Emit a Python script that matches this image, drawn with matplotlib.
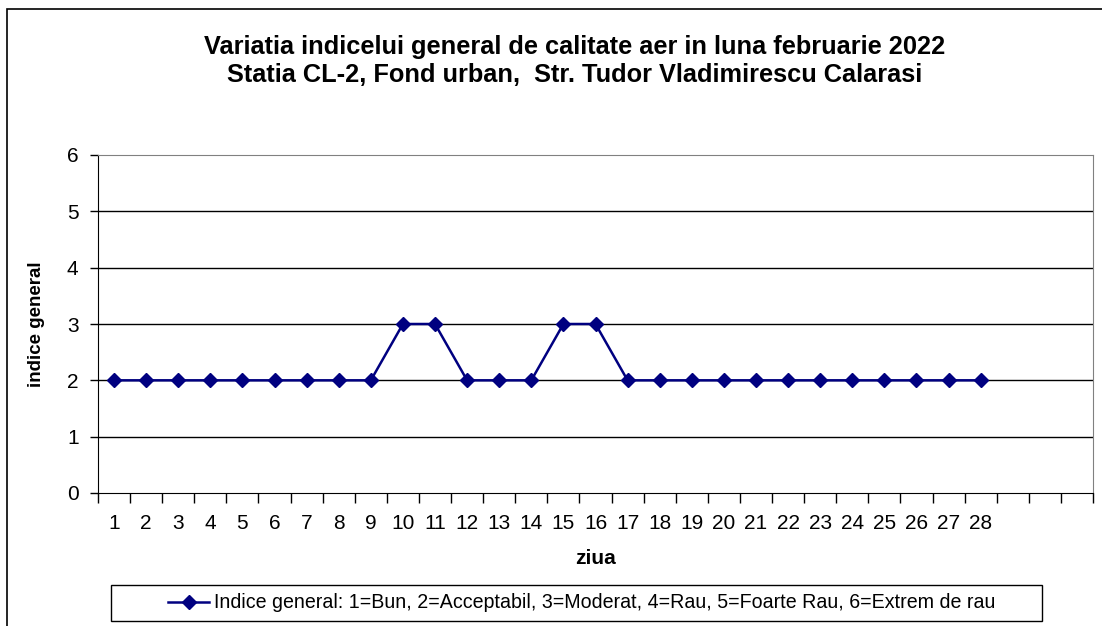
import numpy as np
import matplotlib
matplotlib.use("Agg")
import matplotlib.pyplot as plt
from matplotlib.patches import Rectangle

plt.rcParams['font.family'] = ['Liberation Sans', 'DejaVu Sans']

# zilele lunii februarie 2022 si indicele general
zile = list(range(1, 29))
indice = [2, 2, 2, 2, 2, 2, 2, 2, 2, 3, 3, 2, 2, 2, 3, 3,
          2, 2, 2, 2, 2, 2, 2, 2, 2, 2, 2, 2]
nr_categorii = 31
yticks = [0, 1, 2, 3, 4, 5, 6]

titlu = ("Variatia indicelui general de calitate aer in luna februarie 2022\n"
         "Statia CL-2, Fond urban,  Str. Tudor Vladimirescu Calarasi")
legenda = ("Indice general: 1=Bun, 2=Acceptabil, 3=Moderat, 4=Rau, "
           "5=Foarte Rau, 6=Extrem de rau")

W, H = 1102, 626
fig = plt.figure(figsize=(W / 100, H / 100), dpi=100)

# chenarul exterior al graficului
fig.patches.append(Rectangle((7 / W, -0.1), 1.2, 1 - 9 / H + 0.1,
                             transform=fig.transFigure, fill=False,
                             edgecolor='black', linewidth=1.2))

ax = fig.add_axes([98 / W, 1 - 493 / H, (1093 - 98) / W, (493 - 155) / H])

ax.plot(zile, indice, color='#000080', linewidth=1.8, marker='D',
        markersize=7.5, zorder=3)

ax.set_xlim(0.5, nr_categorii + 0.5)
ax.set_ylim(0, 6)
ax.set_yticks(yticks)
ax.set_xticks(zile)
ax.set_xticks(np.arange(0.5, nr_categorii + 1, 1), minor=True)
ax.tick_params(axis='x', which='major', length=0, labelsize=15, pad=15)
ax.tick_params(axis='x', which='minor', length=7, width=1, direction='out')
ax.tick_params(axis='y', length=6, width=1, labelsize=15, pad=8)

for y in yticks[1:-1]:
    ax.axhline(y, color='black', linewidth=1, zorder=1)

ax.spines['top'].set_color('#808080')
ax.spines['right'].set_color('#808080')
ax.spines['left'].set_color('black')
ax.spines['bottom'].set_color('black')

ax.set_xlabel('ziua', fontsize=15, fontweight='bold', labelpad=12)
ax.set_ylabel('indice general', fontsize=13.5, fontweight='bold', labelpad=16)

fig.text(575 / W, 1 - 61 / H, titlu, ha='center', va='center',
         fontsize=18.3, fontweight='bold', linespacing=1.2)

# caseta legendei
fig.patches.append(Rectangle((111 / W, 1 - 621 / H), (1042 - 111) / W,
                             (621 - 585) / H, transform=fig.transFigure,
                             fill=False, edgecolor='black', linewidth=1))
ax.plot([], [], color='#000080', linewidth=1.8, marker='D', markersize=7.5,
        label=legenda)
handles, labels = ax.get_legend_handles_labels()
leg = fig.legend(handles[-1:], labels[-1:], loc='center left',
                 bbox_to_anchor=(168 / W, 1 - 603 / H), fontsize=14.1,
                 frameon=False, handlelength=2.1, handletextpad=0.25,
                 borderpad=0, borderaxespad=0)

fig.savefig('out.png', dpi=100)
